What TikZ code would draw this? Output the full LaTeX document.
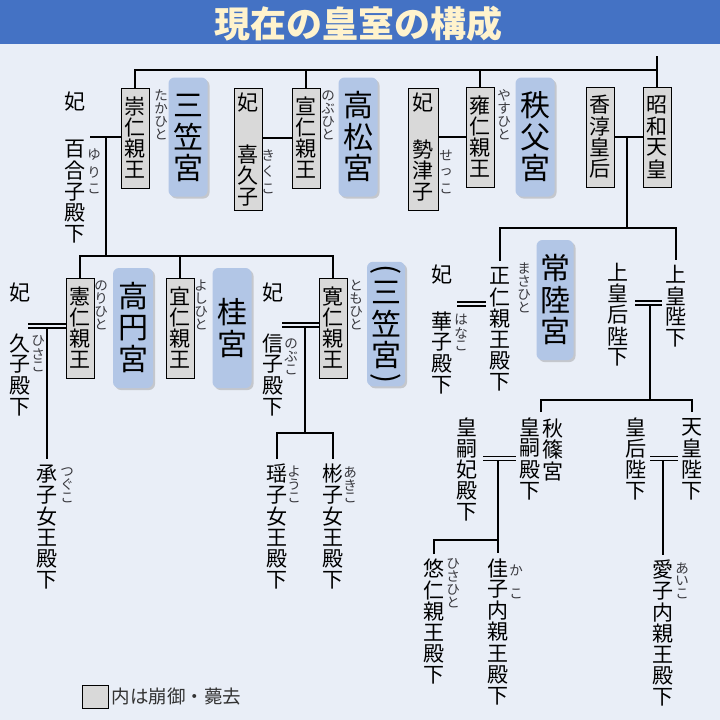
\documentclass[tikz,border=0pt]{standalone}
\usepackage{fontspec}
\usepackage{graphicx}
\usetikzlibrary{shadows}
\newfontfamily\jp{Noto Sans CJK JP}

\definecolor{titleblue}{RGB}{68,114,196}
\definecolor{titletext}{RGB}{255,243,205}
\definecolor{paper}{RGB}{233,238,247}
\definecolor{boxgray}{RGB}{217,217,217}
\definecolor{miyablue}{RGB}{178,198,230}
\definecolor{rubygray}{RGB}{55,55,60}

% vertical text: one character per cell
\newlength\tp
\makeatletter
\newcommand\tatecell[2]{\vbox to#1{\vss\hbox to1em{\hss#2\hss}\vss}}
\newcommand\tate[2][\tp]{\vbox{\offinterlineskip\@tfor\tch:=#2\do{\tatecell{#1}{\tch}}}}
\makeatother

\newcommand\nmfont{\jp\fontsize{21}{21}\selectfont\setlength\tp{21.3pt}}
\newcommand\miyafont{\jp\fontsize{30}{30}\selectfont\setlength\tp{31.5pt}}
\newcommand\rbfont{\jp\fontsize{13.5}{13.5}\selectfont\setlength\tp{13pt}}

\tikzset{
  conn/.style={line width=1.6pt},
  dbl/.style={line width=1.3pt, double=paper, double distance=2.6pt},
  namebox/.style={draw, line width=0.8pt, fill=boxgray, inner sep=0pt, minimum width=28pt, minimum height=100pt, font=\nmfont},
  miya/.style={fill=miyablue, rounded corners=6pt, inner sep=0pt, minimum width=39pt, minimum height=120pt, font=\miyafont,
    drop shadow={shadow xshift=2pt, shadow yshift=-2pt, opacity=0.35}},
  nm/.style={inner sep=0pt, outer sep=4pt, font=\nmfont},
  rb/.style={inner sep=0pt, text=rubygray, font=\rbfont},
}

\begin{document}
\begin{tikzpicture}[x=1pt,y=-1pt]
\useasboundingbox (0,0) rectangle (720,720);
\fill[paper] (0,0) rectangle (720,720);
\fill[titleblue] (0,0) rectangle (720,44);
\node[font=\jp\bfseries\fontsize{36}{36}\selectfont, text=titletext] (title) at (358,24) {現在の皇室の構成};

% first generation
\node[namebox] (takahito) at (135,138) {\tate{崇仁親王}};
\node[namebox] (nobuhito) at (306,138) {\tate{宣仁親王}};
\node[namebox] (yasuhito) at (480,137) {\tate{雍仁親王}};
\node[namebox] (kojun) at (600,137) {\tate{香淳皇后}};
\node[namebox] (showa) at (657,137) {\tate{昭和天皇}};
\node[namebox, minimum height=122pt] (kikukobox) at (248,149) {};
\node[nm] (kikukohi) at (248,103) {妃};
\node[nm] (kikuko) at (248,176) {\tate{喜久子}};
\node[namebox, minimum width=30pt, minimum height=122pt] (setsukobox) at (423,149) {};
\node[nm] (setsukohi) at (423,103) {妃};
\node[nm] (setsuko) at (423,171) {\tate{勢津子}};
\node[miya, minimum height=119pt] (mikasa) at (188,137) {\tate{三笠宮}};
\node[miya, minimum height=119pt] (takamatsu) at (358,137) {\tate{高松宮}};
\node[miya, minimum height=119pt] (chichibu) at (535,137) {\tate{秩父宮}};
\node[nm] (yurikohi) at (75,102) {妃};
\node[nm] (yuriko) at (75,192) {\tate{百合子殿下}};
\node[rb] (takahitor) at (161,115) {\tate{たかひと}};
\node[rb] (nobuhitor) at (328,115) {\tate{のぶひと}};
\node[rb] (yasuhitor) at (504,115) {\tate{やすひと}};
\node[rb] (yurikor) at (94,172) {\tate[17pt]{ゆりこ}};
\node[rb] (kikukor) at (268,172) {\tate[17pt]{きくこ}};
\node[rb] (setsukor) at (446,172) {\tate[17pt]{せっこ}};

% mikasa family
\node[namebox] (norihito) at (80,328) {\tate{憲仁親王}};
\node[namebox] (yoshihito) at (180,328) {\tate{宜仁親王}};
\node[namebox] (tomohito) at (333,328) {\tate{寛仁親王}};
\node[miya, minimum width=40pt] (takamado) at (133,328) {\tate{高円宮}};
\node[miya] (katsura) at (232,328) {\tate{桂宮}};
\node[miya, minimum width=38pt, minimum height=112pt] (mikasanew) at (386,324)
  {\vbox{\offinterlineskip\tatecell{15pt}{\rotatebox{-90}{(}}\tate{三笠宮}\tatecell{15pt}{\rotatebox{-90}{)}}}};
\node[rb] (norihitor) at (101,305) {\tate{のりひと}};
\node[rb] (yoshihitor) at (201,305) {\tate{よしひと}};
\node[rb] (tomohitor) at (356,305) {\tate{ともひと}};
\node[nm] (hisakohi) at (20,293) {妃};
\node[nm] (hisako) at (20,375) {\tate{久子殿下}};
\node[rb] (hisakor) at (38,354) {\tate{ひさこ}};
\node[nm] (nobukohi) at (273,293) {妃};
\node[nm] (nobuko) at (273,375) {\tate{信子殿下}};
\node[rb] (nobukor) at (291,357) {\tate{のぶこ}};
\node[nm] (tsuguko) at (47,527) {\tate{承子女王殿下}};
\node[rb] (tsugukor) at (67,485) {\tate{つぐこ}};
\node[nm] (yoko) at (277,527) {\tate{瑶子女王殿下}};
\node[rb] (yokor) at (294,485) {\tate{ようこ}};
\node[nm] (akiko) at (333,527) {\tate{彬子女王殿下}};
\node[rb] (akikor) at (350,485) {\tate{あきこ}};

% showa family
\node[nm] (masahito) at (500,329) {\tate{正仁親王殿下}};
\node[rb] (masahitor) at (524,288) {\tate{まさひと}};
\node[miya, minimum width=37pt] (hitachi) at (555,300) {\tate{常陸宮}};
\node[nm] (hanakohi) at (442,275) {妃};
\node[nm] (hanako) at (442,353) {\tate{華子殿下}};
\node[rb] (hanakor) at (461,333) {\tate{はなこ}};
\node[nm] (joko) at (676,306.5) {\tate{上皇陛下}};
\node[nm] (jokogo) at (618,315) {\tate{上皇后陛下}};
\node[nm] (tenno) at (692,459) {\tate{天皇陛下}};
\node[nm] (kogo) at (636,459) {\tate{皇后陛下}};
\node[nm] (akishino) at (553,450) {\tate{秋篠宮}};
\node[nm] (kashi) at (530,459) {\tate{皇嗣殿下}};
\node[nm] (kashihi) at (467,470) {\tate{皇嗣妃殿下}};
\node[nm] (aiko) at (663,633.5) {\tate{愛子内親王殿下}};
\node[rb] (aikor) at (682,581) {\tate{あいこ}};
\node[nm] (hisahito) at (434,622) {\tate{悠仁親王殿下}};
\node[rb] (hisahitor) at (453,583) {\tate{ひさひと}};
\node[nm] (kako) at (498,632) {\tate{佳子内親王殿下}};
\node[rb] (kakor) at (516,582) {\tate[24pt]{かこ}};

% legend
\node[namebox, minimum width=26pt, minimum height=23pt] (legbox) at (95,696.5) {};
\node[right, inner sep=3pt, font=\jp\fontsize{18.5}{18.5}\selectfont, text=black!80] (legtext) at (legbox.east) {内は崩御・薨去};

%Straight Lines
\coordinate (gen1) at (657,70);
\coordinate (taisho) at (657,56);
\draw[conn] (taisho) -- (showa.north);
\draw[conn] (takahito.north) |- (gen1);
\draw[conn] (nobuhito.north) -- (nobuhito.north |- gen1);
\draw[conn] (yasuhito.north) -- (yasuhito.north |- gen1);

\coordinate (yurikoend) at (90,137);
\draw[conn] (takahito.west |- yurikoend) -- (yurikoend);
\draw[conn] (nobuhito.west) -- (nobuhito.west -| kikukobox.east);
\draw[conn] (yasuhito.west) -- (yasuhito.west -| setsukobox.east);
\draw[conn] (showa.west) -- (kojun.east);

\coordinate (gen2a) at (106,256);
\draw[conn] (gen2a |- yurikoend) -- (gen2a);
\draw[conn] (norihito.north) |- (tomohito.north |- gen2a) -- (tomohito.north);
\draw[conn] (yoshihito.north) -- (yoshihito.north |- gen2a);

\coordinate (gen2b) at (627,228);
\draw[conn] (gen2b |- showa.west) -- (gen2b);
\draw[conn] (masahito.north) |- (joko.north |- gen2b) -- (joko.north);

\coordinate (hdbl) at (28,326);
\draw[conn] (tsuguko.north |- hdbl) -- (tsuguko.north);
\draw[dbl] (hdbl) -- (hdbl -| norihito.west);

\coordinate (ndbl) at (282,325);
\coordinate (gen3a) at (305,433);
\draw[conn] (gen3a |- ndbl) -- (gen3a);
\draw[dbl] (ndbl) -- (ndbl -| tomohito.west);
\draw[conn] (yoko.north) |- (akiko.north |- gen3a) -- (akiko.north);

\coordinate (mdbl) at (457,304);
\draw[dbl] (mdbl) -- (mdbl -| masahito.west);

\coordinate (jdbl) at (635,303);
\coordinate (gen3b) at (650,400);
\coordinate (akishinotop) at (541,412);
\draw[conn] (gen3b |- jdbl) -- (gen3b);
\draw[dbl] (jdbl) -- (jdbl -| joko.west);
\draw[conn] (akishinotop) |- (tenno.north |- gen3b) -- (tenno.north);

\coordinate (kdbl) at (483,458.5);
\coordinate (gen4) at (498,540);
\draw[conn] (kako.north |- kdbl) -- (kako.north);
\draw[conn] (hisahito.north) |- (gen4);
\draw[dbl] (kdbl) -- (kdbl -| kashi.west);

\coordinate (tdbl) at (650,458.5);
\draw[conn] (aiko.north |- tdbl) -- (aiko.north);
\draw[dbl] (tdbl) -- (tdbl -| tenno.west);

\end{tikzpicture}
\end{document}
